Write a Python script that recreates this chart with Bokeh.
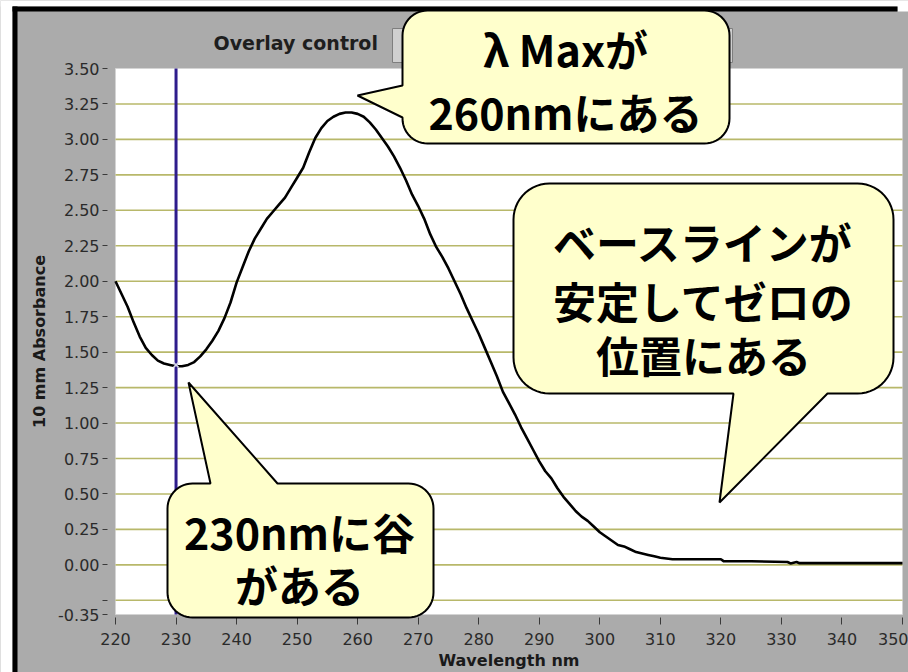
import numpy as np
from bokeh.plotting import figure
from bokeh.models import (Range1d, FixedTicker, NumeralTickFormatter,
                          BoxAnnotation, PolyAnnotation, Label)
from bokeh.embed import file_html
from bokeh.resources import INLINE

# ---------------- data ----------------
wavelength = [220, 221, 222, 223, 224, 225, 226, 227, 228, 229, 230, 231, 232, 233,
              234, 235, 236, 237, 238, 239, 240, 241, 242, 243, 244, 245, 246, 247,
              248, 249, 250, 251, 252, 253, 254, 255, 256, 257, 258, 259, 260, 261,
              262, 263, 264, 265, 266, 267, 268, 269, 270, 271, 272, 273, 274, 275,
              276, 277, 278, 279, 280, 281, 282, 283, 284, 285, 286, 287, 288, 289,
              290, 291, 292, 293, 294, 295, 296, 297, 298, 299, 300, 301, 302, 303,
              304, 305, 306, 307, 308, 309, 310, 312, 315, 320, 320.5, 325, 331,
              331.5, 332.5, 333, 340, 350]
absorbance = [2.00, 1.91, 1.82, 1.71, 1.61, 1.53, 1.48, 1.44, 1.42, 1.41, 1.40, 1.40,
              1.41, 1.43, 1.47, 1.52, 1.58, 1.65, 1.74, 1.85, 1.99, 2.10, 2.21, 2.30,
              2.37, 2.44, 2.49, 2.54, 2.59, 2.66, 2.73, 2.80, 2.91, 3.01, 3.08, 3.13,
              3.16, 3.18, 3.19, 3.19, 3.18, 3.16, 3.12, 3.07, 3.01, 2.95, 2.88, 2.80,
              2.71, 2.61, 2.53, 2.44, 2.33, 2.24, 2.17, 2.09, 2.00, 1.91, 1.81, 1.72,
              1.63, 1.53, 1.43, 1.33, 1.22, 1.14, 1.06, 0.97, 0.89, 0.81, 0.73, 0.66,
              0.61, 0.54, 0.48, 0.43, 0.38, 0.34, 0.31, 0.27, 0.23, 0.20, 0.17, 0.14,
              0.13, 0.11, 0.09, 0.08, 0.07, 0.06, 0.05, 0.04, 0.04, 0.04, 0.025, 0.025,
              0.02, 0.01, 0.02, 0.012, 0.012, 0.012]

x_ticks = [220, 230, 240, 250, 260, 270, 280, 290, 300, 310, 320, 330, 340, 350]
y_ticks = [-0.35, -0.25, 0.0, 0.25, 0.5, 0.75, 1.0, 1.25, 1.5, 1.75, 2.0, 2.25,
           2.5, 2.75, 3.0, 3.25, 3.5]
y_grid = [-0.25, 0.0, 0.25, 0.5, 0.75, 1.0, 1.25, 1.5, 1.75, 2.0, 2.25,
          2.5, 2.75, 3.0, 3.25]
y_unlabeled = [-0.25]

cursor_nm = [230]
valley_nm = [230]
valley_abs = [1.41]

title_text = "Overlay control"
x_label = "Wavelength nm"
y_label = "10 mm Absorbance"

peak_lines = ["λ Maxが", "260nmにある"]
baseline_lines = ["ベースラインが", "安定してゼロの", "位置にある"]
valley_lines = ["230nmに谷", "がある"]

# ---------------- layout ----------------
X_MIN, X_MAX = 220, 350
Y_MIN, Y_MAX = -0.35, 3.50
W, H = 908, 672
PAD_L, PAD_R, PAD_T, PAD_B = 115, 6, 68, 58          # canvas px around plot area
PLOT_W, PLOT_H = W - PAD_L - PAD_R, H - PAD_T - PAD_B
KX = PLOT_W / (X_MAX - X_MIN)                         # px per nm
KY = PLOT_H / (Y_MAX - Y_MIN)                         # px per absorbance unit


def cx(px):   # canvas x (px) -> data x
    return X_MIN + (px - PAD_L) / KX


def cy(py):   # canvas y (px, from top) -> data y
    return Y_MAX - (py - PAD_T) / KY


GRAY = "#ABABAB"
TICK_FONT = "DejaVu Sans"
CALLOUT_FONT = "Noto Sans CJK JP"

p = figure(width=W, height=H, min_border=0,
           x_range=Range1d(cx(0), cx(W)), y_range=Range1d(cy(H), cy(0)),
           output_backend="svg", toolbar_location=None,
           background_fill_color=GRAY, border_fill_color=GRAY,
           outline_line_color=None)
p.grid.visible = False


def box(left, right, bottom, top, color, level="image", line=None, lw=1):
    p.add_layout(BoxAnnotation(left=left, right=right, bottom=bottom, top=top,
                               fill_color=color, fill_alpha=1,
                               line_color=line, line_alpha=1, line_width=lw,
                               level=level))


# white plot area
box(X_MIN, X_MAX, Y_MIN, Y_MAX, "white", line="#D4D4D4")
# window frame (white margins, black borders)
box(cx(0), cx(12), cy(H), cy(0), "white")
box(cx(0), cx(W), cy(6), cy(0), "white")
box(cx(897), cx(W), cy(11), cy(0), "white")
box(cx(12), cx(17), cy(H), cy(6), "black")
box(cx(12), cx(897), cy(11), cy(6), "black")

# axes placed at the plot-area edges
xa = p.xaxis[0]
ya = p.yaxis[0]
xa.fixed_location = Y_MIN
ya.fixed_location = X_MIN
xa.bounds = (X_MIN, X_MAX)
ya.bounds = (Y_MIN, Y_MAX)
xa.ticker = FixedTicker(ticks=x_ticks)
ya.ticker = FixedTicker(ticks=y_ticks)
ya.formatter = NumeralTickFormatter(format="0.00")
ya.major_label_overrides = {v: "" for v in y_unlabeled}
xa.axis_label = x_label
ya.axis_label = y_label

for ax in (xa, ya):
    ax.axis_line_color = None
    ax.minor_tick_line_color = None
    ax.major_tick_line_color = "#3A3A3A"
    ax.major_tick_line_width = 1
    ax.major_label_text_font = TICK_FONT
    ax.major_label_text_font_size = "16px"
    ax.major_label_text_color = "#2A2A2A"
    ax.axis_label_text_font = TICK_FONT
    ax.axis_label_text_font_size = "16px"
    ax.axis_label_text_font_style = "bold"
    ax.axis_label_text_color = "#1A1A1A"

xa.major_tick_out = 10
xa.major_tick_in = -3
xa.major_label_standoff = 8
xa.axis_label_standoff = 3

ya.major_tick_out = 13
ya.major_tick_in = -8
ya.major_label_standoff = 3
ya.axis_label_standoff = 6

# horizontal grid lines across the plot area
p.segment(x0=X_MIN, x1=X_MAX, y0=y_grid, y1=y_grid,
          line_color="#B8B86A", line_width=1.6)

# title
p.add_layout(Label(x=cx(213), y=cy(42), text=title_text, text_align="left",
                   text_baseline="middle", text_font=TICK_FONT,
                   text_font_size="19px", text_font_style="bold",
                   text_color="#1E1E1E"))
# overlay-control button (mostly hidden behind the callout)
p.add_layout(BoxAnnotation(left=cx(392), right=cx(732), bottom=cy(62), top=cy(28),
                           fill_color="#CFCFCF", fill_alpha=1,
                           line_color="#7E7E7E", line_alpha=1, line_width=1))

# spectrum
p.line(wavelength, absorbance, line_color="black", line_width=2.6)

# cursor and valley marker
p.segment(x0=cursor_nm, x1=cursor_nm, y0=Y_MIN, y1=Y_MAX,
          line_color="#2E1C8C", line_width=3)
p.scatter(valley_nm, valley_abs, marker="x", size=7, line_color="#D8D8E8",
          line_width=1.5)


def callout_shape(bx, radius, edge, base, tip):
    x0, x1, y0, y1 = bx
    X0, X1 = (x0 - X_MIN) * KX, (x1 - X_MIN) * KX
    Y0, Y1 = (y0 - Y_MIN) * KY, (y1 - Y_MIN) * KY
    r = radius
    if edge in ("top", "bottom"):
        B0, B1 = sorted(((base[0] - X_MIN) * KX, (base[1] - X_MIN) * KX))
    else:
        B0, B1 = sorted(((base[0] - Y_MIN) * KY, (base[1] - Y_MIN) * KY))
    TX, TY = (tip[0] - X_MIN) * KX, (tip[1] - Y_MIN) * KY
    pts = []

    def arc(ax_, ay_, a0, a1):
        for t in np.linspace(np.radians(a0), np.radians(a1), 14):
            pts.append((ax_ + r * np.cos(t), ay_ + r * np.sin(t)))

    arc(X0 + r, Y0 + r, 180, 270)
    if edge == "bottom":
        pts.extend([(B0, Y0), (TX, TY), (B1, Y0)])
    arc(X1 - r, Y0 + r, 270, 360)
    if edge == "right":
        pts.extend([(X1, B0), (TX, TY), (X1, B1)])
    arc(X1 - r, Y1 - r, 0, 90)
    if edge == "top":
        pts.extend([(B1, Y1), (TX, TY), (B0, Y1)])
    arc(X0 + r, Y1 - r, 90, 180)
    if edge == "left":
        pts.extend([(X0, B1), (TX, TY), (X0, B0)])
    xs = [X_MIN + a / KX for a, _ in pts]
    ys = [Y_MIN + b / KY for _, b in pts]
    return xs, ys


def add_callout(bx, radius, edge, base, tip, lines, tx, line_ys):
    xs, ys = callout_shape(bx, radius, edge, base, tip)
    p.add_layout(PolyAnnotation(xs=xs, ys=ys, xs_units="data", ys_units="data",
                                fill_color="#FFFFCC", fill_alpha=1,
                                line_color="black", line_alpha=1, line_width=2))
    for txt, ly in zip(lines, line_ys):
        p.add_layout(Label(x=tx, y=ly, text=txt, text_align="center",
                           text_baseline="middle", text_font=CALLOUT_FONT,
                           text_font_size="43px", text_font_style="bold",
                           text_color="black"))


# peak callout (λ max near 260 nm)
add_callout((cx(402), cx(729), cy(143), cy(10)), 25, "left",
            (cy(117), cy(85)), (cx(357), cy(95)),
            peak_lines, cx(565), [cy(47), cy(110)])
# baseline callout
add_callout((cx(513), cx(893), cy(393), cy(183)), 36, "bottom",
            (cx(733), cx(827)), (cx(719), cy(502)),
            baseline_lines, cx(703), [cy(240), cy(299), cy(353)])
# valley callout (230 nm)
add_callout((cx(167), cx(433), cy(617), cy(483)), 25, "top",
            (cx(210), cx(277)), (cx(188), cy(382)),
            valley_lines, cx(299), [cy(530), cy(583)])

open("out.html", "w").write(file_html(p, INLINE))
